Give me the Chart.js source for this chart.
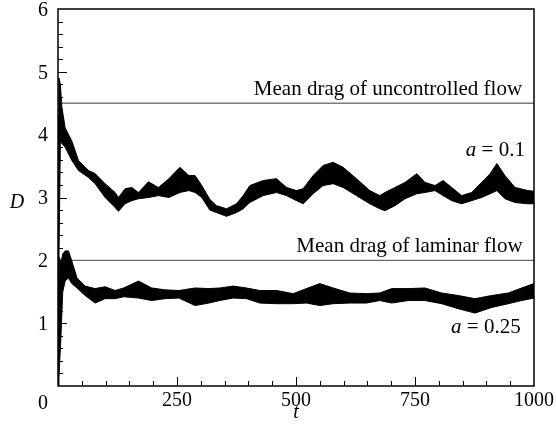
<!DOCTYPE html>
<html>
<head>
<meta charset="utf-8">
<script src="https://cdn.jsdelivr.net/npm/chart.js@4.4.0/dist/chart.umd.min.js"></script>
<style>
  html, body { margin: 0; padding: 0; background: #fff; }
</style>
</head>
<body>
<canvas id="dragChart" width="556" height="438"></canvas>
<script>
// a = 0.1 : envelope of the oscillating drag signal
const tUp = [0, 2, 5, 8, 15, 29, 43, 64, 78, 99, 120, 127, 141, 155, 169, 190, 211, 233, 256, 275, 288, 302, 319, 333, 354, 375, 389, 403, 431, 459, 480, 501, 515, 536, 557, 578, 599, 627, 655, 676, 687, 708, 729, 754, 771, 792, 809, 827, 848, 869, 890, 908, 922, 939, 960, 987, 1000];
const upTop = [4.3, 4.9, 4.8, 4.45, 4.11, 3.9, 3.59, 3.43, 3.38, 3.22, 3.08, 3.0, 3.14, 3.16, 3.08, 3.25, 3.16, 3.3, 3.48, 3.35, 3.35, 3.19, 2.97, 2.87, 2.82, 2.9, 3.03, 3.19, 3.27, 3.3, 3.16, 3.11, 3.14, 3.35, 3.51, 3.56, 3.48, 3.3, 3.11, 3.03, 3.08, 3.16, 3.24, 3.38, 3.24, 3.19, 3.27, 3.16, 3.03, 3.08, 3.24, 3.38, 3.54, 3.35, 3.16, 3.11, 3.1];
const upBot = [0, 2.0, 3.9, 3.86, 3.8, 3.59, 3.43, 3.32, 3.22, 3.0, 2.84, 2.78, 2.9, 2.95, 2.98, 3.0, 3.03, 3.0, 3.08, 3.11, 3.08, 3.0, 2.8, 2.76, 2.7, 2.76, 2.82, 2.92, 3.03, 3.08, 3.03, 2.95, 2.9, 3.06, 3.19, 3.22, 3.16, 3.03, 2.9, 2.82, 2.79, 2.87, 2.98, 3.06, 3.08, 3.11, 3.03, 2.95, 2.9, 2.95, 3.0, 3.06, 3.11, 2.98, 2.92, 2.9, 2.9];

// a = 0.25
const tLo = [0, 3, 6, 10, 15, 22, 29, 40, 57, 78, 99, 120, 138, 169, 197, 225, 254, 288, 317, 340, 368, 396, 424, 459, 494, 522, 550, 578, 613, 648, 676, 701, 736, 771, 806, 841, 876, 911, 946, 974, 1000];
const loTop = [0.3, 2.05, 1.95, 2.1, 2.15, 2.15, 1.99, 1.72, 1.59, 1.55, 1.58, 1.52, 1.56, 1.67, 1.56, 1.53, 1.52, 1.56, 1.55, 1.56, 1.59, 1.56, 1.52, 1.52, 1.47, 1.55, 1.63, 1.56, 1.48, 1.47, 1.48, 1.55, 1.55, 1.56, 1.48, 1.44, 1.39, 1.44, 1.48, 1.56, 1.63];
const loBot = [0, 0.3, 0.75, 1.5, 1.67, 1.72, 1.63, 1.56, 1.44, 1.32, 1.39, 1.39, 1.42, 1.40, 1.36, 1.39, 1.40, 1.28, 1.32, 1.36, 1.40, 1.39, 1.32, 1.31, 1.31, 1.32, 1.28, 1.31, 1.32, 1.32, 1.36, 1.32, 1.36, 1.36, 1.31, 1.23, 1.16, 1.25, 1.31, 1.36, 1.40];

const meanUncontrolled = 4.5;
const meanLaminar = 2.0;

const xTicks = [0, 250, 500, 750, 1000];
const yTicks = [0, 1, 2, 3, 4, 5, 6];

const noteText = ['Mean drag of uncontrolled flow', ' = 0.1', 'Mean drag of laminar flow', ' = 0.25'];
const noteItalic = ['', 'a', '', 'a'];
const noteT = [975, 981, 976, 972];
const noteD = [4.625, 3.66, 2.14, 0.85];

const serif = '"Liberation Serif", "Times New Roman", serif';
Chart.defaults.font.family = serif;

function toPoints(ts, vs) {
  return ts.map((t, i) => ({ x: t, y: vs[i] }));
}

// keep tick labels from pushing the plot area around
function fixScale(s, key, size) {
  s[key] = size;
  s.paddingTop = s.paddingBottom = s.paddingLeft = s.paddingRight = 0;
}

const frameAndLabels = {
  id: 'frameAndLabels',
  afterDraw(chart) {
    const { ctx, chartArea: a, scales: { x, y } } = chart;
    ctx.save();
    ctx.strokeStyle = '#000';
    ctx.lineWidth = 1.5;
    ctx.strokeRect(a.left, a.top, a.right - a.left, a.bottom - a.top);

    // inward ticks, major + minor
    ctx.lineWidth = 1;
    ctx.beginPath();
    for (let i = 1; i < 30; i++) {
      const py = Math.round(y.getPixelForValue(i * 0.2)) + 0.5;
      const len = i % 5 === 0 ? 9 : 5;
      ctx.moveTo(a.left, py);
      ctx.lineTo(a.left + len, py);
    }
    for (let i = 1; i < 20; i++) {
      const px = Math.round(x.getPixelForValue(i * 50)) + 0.5;
      const len = i % 5 === 0 ? 9 : 5;
      ctx.moveTo(px, a.bottom);
      ctx.lineTo(px, a.bottom - len);
    }
    ctx.stroke();

    ctx.fillStyle = '#000';
    ctx.textBaseline = 'alphabetic';
    ctx.textAlign = 'right';
    noteText.forEach((txt, i) => {
      const px = x.getPixelForValue(noteT[i]);
      const py = y.getPixelForValue(noteD[i]);
      ctx.font = '21px ' + serif;
      ctx.fillText(txt, px, py);
      if (noteItalic[i]) {
        const w = ctx.measureText(txt).width;
        ctx.font = 'italic 21px ' + serif;
        ctx.fillText(noteItalic[i], px - w, py);
      }
    });

    // shared origin label
    ctx.font = '20px ' + serif;
    ctx.fillText('0', a.left - 10, a.bottom + 23);

    // axis titles
    ctx.textAlign = 'center';
    ctx.font = 'italic 20px ' + serif;
    ctx.fillText('D', a.left - 41, (a.top + a.bottom) / 2 + 10.5);
    ctx.fillText('t', (a.left + a.right) / 2, a.bottom + 32);
    ctx.restore();
  }
};

const band = { borderColor: '#000', backgroundColor: '#000', borderWidth: 1, pointRadius: 0, tension: 0 };

new Chart(document.getElementById('dragChart').getContext('2d'), {
  type: 'line',
  data: {
    datasets: [
      { ...band, label: 'a = 0.1 upper', data: toPoints(tUp, upTop), fill: '+1' },
      { ...band, label: 'a = 0.1 lower', data: toPoints(tUp, upBot), fill: false },
      { ...band, label: 'a = 0.25 upper', data: toPoints(tLo, loTop), fill: '+1' },
      { ...band, label: 'a = 0.25 lower', data: toPoints(tLo, loBot), fill: false },
      { label: 'Mean drag of uncontrolled flow', data: [{ x: 0, y: meanUncontrolled }, { x: 1000, y: meanUncontrolled }],
        borderColor: '#7a7a7a', borderWidth: 1.5, pointRadius: 0, fill: false },
      { label: 'Mean drag of laminar flow', data: [{ x: 0, y: meanLaminar }, { x: 1000, y: meanLaminar }],
        borderColor: '#444', borderWidth: 1, pointRadius: 0, fill: false }
    ]
  },
  options: {
    responsive: false,
    animation: false,
    layout: { padding: { top: 9, right: 22, left: 0, bottom: 0 } },
    plugins: { legend: { display: false }, tooltip: { enabled: false } },
    scales: {
      x: {
        type: 'linear', min: 0, max: 1000,
        afterFit: s => fixScale(s, 'height', 52),
        afterBuildTicks: s => { s.ticks = xTicks.map(v => ({ value: v })); },
        grid: { display: false, drawTicks: false },
        border: { display: false },
        ticks: { padding: 3, maxRotation: 0, autoSkip: false, color: '#000',
                 font: { family: serif, size: 20 },
                 callback: v => v === 0 ? '' : v }
      },
      y: {
        min: 0, max: 6,
        afterFit: s => fixScale(s, 'width', 58),
        afterBuildTicks: s => { s.ticks = yTicks.map(v => ({ value: v })); },
        grid: { display: false, drawTicks: false },
        border: { display: false },
        ticks: { padding: 10, labelOffset: 1.5, color: '#000',
                 font: { family: serif, size: 20 },
                 callback: v => v === 0 ? '' : v }
      }
    }
  },
  plugins: [frameAndLabels]
});
</script>
</body>
</html>
